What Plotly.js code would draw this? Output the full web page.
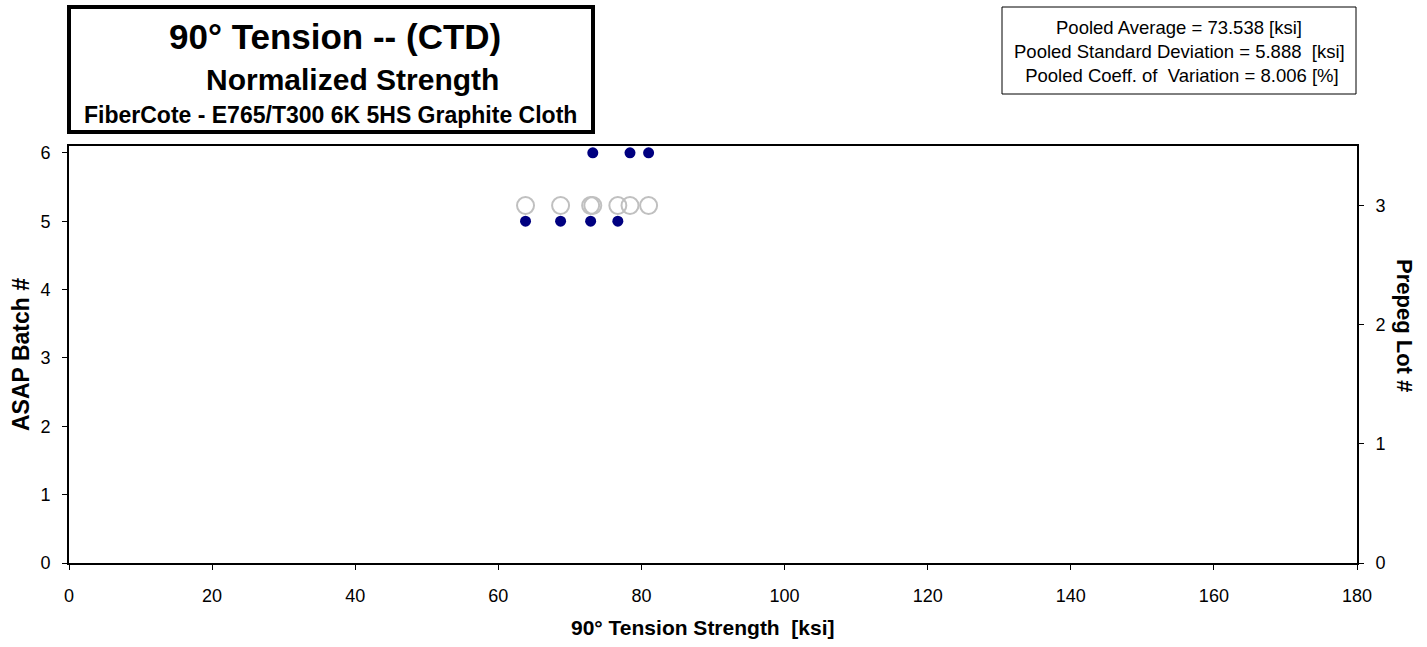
<!DOCTYPE html>
<html>
<head>
<meta charset="utf-8">
<script src="https://cdn.plot.ly/plotly-3.0.1.min.js"></script>
<style>html,body{margin:0;padding:0;background:#fff;}#chart{width:1427px;height:647px;}</style>
</head>
<body>
<div id="chart"></div>
<script>
// Data
const strengthBatch6 = [73.2, 78.4, 81.0];
const batch6 = [6, 6, 6];
const strengthBatch5 = [63.8, 68.7, 72.9, 76.7];
const batch5 = [5, 5, 5, 5];
const strengthAll = [63.8, 68.7, 72.9, 73.2, 76.7, 78.4, 81.0];
const prepegLot = [3, 3, 3, 3, 3, 3, 3];
const xTicks = [0, 20, 40, 60, 80, 100, 120, 140, 160, 180];
const batchTicks = [0, 1, 2, 3, 4, 5, 6];
const lotTicks = [0, 1, 2, 3];
const statLines = [
  "Pooled Average = 73.538 [ksi]",
  "Pooled Standard Deviation = 5.888  [ksi]",
  " Pooled Coeff. of  Variation = 8.006 [%]"
];
const titleLines = ["90° Tension -- (CTD)", "Normalized Strength", "FiberCote - E765/T300 6K 5HS Graphite Cloth"];
const xTitle = "90° Tension Strength  [ksi]";
const yTitle = "ASAP Batch #";
const y2Title = "Prepeg Lot #";

const W = 1427, H = 647;
const L = 69, R = 70, T = 146, B = 84;
const pw = W - L - R, ph = H - T - B;
const px = x => (x - L) / pw;
const py = y => (H - B - y) / ph;
const FONT = '"Liberation Sans", Arial, sans-serif';
const TF = {family: FONT, size: 18, color: '#000'};

const traces = [
  {x: strengthAll, y: prepegLot, yaxis: 'y2', type: 'scatter', mode: 'markers',
   marker: {symbol: 'circle-open', size: 17, color: '#c0c0c0', line: {width: 2, color: '#c0c0c0'}},
   showlegend: false, hoverinfo: 'x+y'},
  {x: strengthBatch5.concat(strengthBatch6), y: batch5.concat(batch6), type: 'scatter', mode: 'markers',
   marker: {symbol: 'circle', size: 11, color: '#000080'}, showlegend: false, hoverinfo: 'x+y'}
];

const baseAx = {showgrid: false, zeroline: false, tickcolor: '#000', tickwidth: 1, ticklen: 5};

const layout = {
  width: W, height: H,
  margin: {l: L, r: R, t: T, b: B, pad: 0},
  paper_bgcolor: '#fff', plot_bgcolor: 'rgba(0,0,0,0)',
  font: {family: FONT, size: 14, color: '#000'},
  xaxis: Object.assign({}, baseAx, {range: [0, 180], tickvals: xTicks, ticks: 'outside', ticklabelstandoff: 10,
          showline: true, linecolor: '#000', linewidth: 2, mirror: true, tickfont: TF}),
  xaxis2: Object.assign({}, baseAx, {range: [0, 180], tickvals: xTicks, ticks: 'inside', overlaying: 'x',
          anchor: 'y', showticklabels: false, showline: false}),
  yaxis: Object.assign({}, baseAx, {range: [0, 6.1], tickvals: batchTicks, ticks: 'outside', ticklabelstandoff: 8,
          showline: true, linecolor: '#000', linewidth: 2, tickfont: TF}),
  yaxis3: Object.assign({}, baseAx, {range: [0, 6.1], tickvals: batchTicks, ticks: 'inside', overlaying: 'y',
          anchor: 'x', showticklabels: false, showline: false}),
  yaxis2: Object.assign({}, baseAx, {range: [0, 3.5], tickvals: lotTicks, overlaying: 'y', side: 'right', anchor: 'x',
          ticks: 'outside', ticklabelstandoff: 8, showline: true, linecolor: '#000', linewidth: 2, tickfont: TF}),
  yaxis4: Object.assign({}, baseAx, {range: [0, 3.5], tickvals: lotTicks, overlaying: 'y', side: 'right', anchor: 'x',
          ticks: 'inside', showticklabels: false, showline: false}),
  shapes: [
    {type: 'rect', xref: 'paper', yref: 'paper', x0: px(69), x1: px(593), y0: py(132), y1: py(7),
     line: {color: '#000', width: 4}, fillcolor: 'rgba(0,0,0,0)'},
    {type: 'rect', xref: 'paper', yref: 'paper', x0: px(1002), x1: px(1356), y0: py(94), y1: py(7),
     line: {color: '#000', width: 1}, fillcolor: 'rgba(0,0,0,0)'}
  ],
  annotations: [
    {text: '<b>' + titleLines[0] + '</b>', xref: 'paper', yref: 'paper', x: px(335), y: py(36),
     showarrow: false, font: {family: FONT, size: 35}, xanchor: 'center', yanchor: 'middle'},
    {text: '<b>' + titleLines[1] + '</b>', xref: 'paper', yref: 'paper', x: px(352), y: py(79),
     showarrow: false, font: {family: FONT, size: 30}, xanchor: 'center', yanchor: 'middle'},
    {text: '<b>' + titleLines[2] + '</b>', xref: 'paper', yref: 'paper', x: px(330), y: py(115),
     showarrow: false, font: {family: FONT, size: 23}, xanchor: 'center', yanchor: 'middle'},
    {text: statLines[0], xref: 'paper', yref: 'paper', x: px(1179), y: py(27),
     showarrow: false, font: {family: FONT, size: 18.5}, xanchor: 'center', yanchor: 'middle'},
    {text: statLines[1], xref: 'paper', yref: 'paper', x: px(1179), y: py(51),
     showarrow: false, font: {family: FONT, size: 18.5}, xanchor: 'center', yanchor: 'middle'},
    {text: statLines[2], xref: 'paper', yref: 'paper', x: px(1179), y: py(76),
     showarrow: false, font: {family: FONT, size: 18.5}, xanchor: 'center', yanchor: 'middle'},
    {text: '<b>' + xTitle + '</b>', xref: 'paper', yref: 'paper', x: px(703), y: py(627),
     showarrow: false, font: {family: FONT, size: 21}, xanchor: 'center', yanchor: 'middle'},
    {text: '<b>' + yTitle + '</b>', xref: 'paper', yref: 'paper', x: px(21), y: py(355), textangle: -90,
     showarrow: false, font: {family: FONT, size: 23}, xanchor: 'center', yanchor: 'middle'},
    {text: '<b>' + y2Title + '</b>', xref: 'paper', yref: 'paper', x: px(1405), y: py(325), textangle: 90,
     showarrow: false, font: {family: FONT, size: 22}, xanchor: 'center', yanchor: 'middle'}
  ]
};

Plotly.newPlot('chart', traces, layout, {displayModeBar: false, staticPlot: true});
</script>
</body>
</html>
